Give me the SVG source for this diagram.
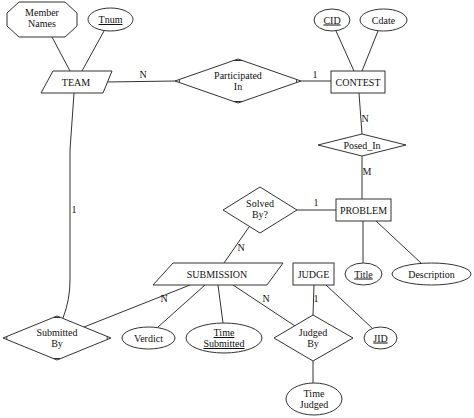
<svg xmlns="http://www.w3.org/2000/svg" width="474" height="418" viewBox="0 0 474 418">
<style>
.s{fill:#fff;stroke:#333;stroke-width:1}
.m{fill:none;stroke:#333;stroke-width:1}
.e{fill:none;stroke:#333;stroke-width:1}
text{font-family:"Liberation Serif","Times New Roman",serif;font-size:10px;fill:#111;text-anchor:middle}
.u{text-decoration:underline}
</style>
<rect width="474" height="418" fill="#fff"/>
<g id="connectors">
<line class="e" x1="52" y1="37" x2="70" y2="71"/>
<line class="e" x1="104" y1="31" x2="82" y2="71"/>
<line class="e" x1="106" y1="82" x2="176" y2="81"/>
<text x="143" y="78">N</text>
<path class="e" d="M74,93 L70,150 L70,280 Q70,300 63,318"/>
<text x="74" y="213">1</text>
<line class="e" x1="301" y1="81" x2="331" y2="81"/>
<text x="315" y="78">1</text>
<line class="e" x1="336" y1="31" x2="354" y2="71"/>
<line class="e" x1="378" y1="31" x2="362" y2="71"/>
<line class="e" x1="359" y1="93" x2="362" y2="134"/>
<text x="365" y="122">N</text>
<line class="e" x1="362" y1="156" x2="362" y2="199"/>
<text x="367" y="175">M</text>
<line class="e" x1="297" y1="210" x2="336" y2="210"/>
<text x="316" y="206">1</text>
<line class="e" x1="249" y1="227" x2="224" y2="263"/>
<text x="241" y="251">N</text>
<line class="e" x1="363" y1="221" x2="363" y2="263"/>
<line class="e" x1="376" y1="221" x2="421" y2="263"/>
<line class="e" x1="190" y1="285" x2="84" y2="327"/>
<text x="164" y="302">N</text>
<line class="e" x1="205" y1="285" x2="158" y2="327"/>
<line class="e" x1="218" y1="285" x2="223" y2="323"/>
<line class="e" x1="233" y1="285" x2="295" y2="326"/>
<text x="266" y="302">N</text>
<line class="e" x1="314" y1="285" x2="313" y2="315"/>
<text x="316" y="302">1</text>
<line class="e" x1="326" y1="285" x2="372" y2="328"/>
<line class="e" x1="313" y1="361" x2="313" y2="383"/>
</g>
<g id="member-names">
<polygon class="s" points="19,2 65,2 77,13 77,26 65,37 19,37 7,26 7,13"/>
<text x="42" y="16">Member</text>
<text x="42" y="27">Names</text>
</g>
<g id="tnum">
<ellipse class="s" cx="110.5" cy="19.5" rx="22.5" ry="11.5"/>
<text class="u" x="110.5" y="23">Tnum</text>
</g>
<g id="team">
<polygon class="s" points="53,71 112,71 103,93 41,93"/>
<text x="76" y="85.5">TEAM</text>
</g>
<g id="participated-in">
<polygon class="s" points="175,81 238,59 301,81 238,103"/>
<path class="m" d="M179.4,79.5 V82.5 M233.6,60.5 H242.4 M296.6,79.5 V82.5 M233.6,101.5 H242.4"/>
<text x="238" y="79">Participated</text>
<text x="238" y="90">In</text>
</g>
<g id="contest">
<rect class="s" x="331" y="71" width="54" height="22"/>
<text x="358" y="85.5">CONTEST</text>
</g>
<g id="cid">
<ellipse class="s" cx="332" cy="20" rx="18" ry="11"/>
<text class="u" x="332" y="23.5">CID</text>
</g>
<g id="cdate">
<ellipse class="s" cx="383.5" cy="20" rx="23.5" ry="11"/>
<text x="383.5" y="23.5">Cdate</text>
</g>
<g id="posed-in">
<polygon class="s" points="318,145 362,134 406,145 362,156"/>
<text x="362" y="148.5">Posed_In</text>
</g>
<g id="problem">
<rect class="s" x="336" y="199" width="55" height="22"/>
<text x="363.5" y="213.5">PROBLEM</text>
</g>
<g id="solved-by">
<polygon class="s" points="223,210 260,187 297,210 260,233"/>
<text x="260" y="207">Solved</text>
<text x="260" y="218">By?</text>
</g>
<g id="submission">
<polygon class="s" points="173,263 283,263 267,285 153,285"/>
<text x="217" y="277.5">SUBMISSION</text>
</g>
<g id="judge">
<rect class="s" x="293" y="263" width="41" height="22"/>
<text x="313.5" y="277.5">JUDGE</text>
</g>
<g id="title">
<ellipse class="s" cx="363.5" cy="274" rx="18.5" ry="11"/>
<text class="u" x="363.5" y="277.5">Title</text>
</g>
<g id="description">
<ellipse class="s" cx="431.5" cy="274" rx="39.5" ry="11"/>
<text x="431.5" y="277.5">Description</text>
</g>
<g id="submitted-by">
<polygon class="s" points="3,338 57,316 111,338 57,360"/>
<path class="m" d="M6.8,336.5 V339.5 M53.2,317.5 H60.8 M107.2,336.5 V339.5 M53.2,358.5 H60.8"/>
<text x="57" y="336">Submitted</text>
<text x="57" y="347">By</text>
</g>
<g id="verdict">
<ellipse class="s" cx="148.5" cy="338" rx="26.5" ry="11"/>
<text x="148.5" y="341.5">Verdict</text>
</g>
<g id="time-submitted">
<ellipse class="s" cx="224" cy="338" rx="38" ry="15"/>
<text class="u" x="224" y="336">Time</text>
<text class="u" x="224" y="347">Submitted</text>
</g>
<g id="judged-by">
<polygon class="s" points="274,338 313,315 353,338 313,361"/>
<text x="313" y="336">Judged</text>
<text x="313" y="347">By</text>
</g>
<g id="jid">
<ellipse class="s" cx="380.5" cy="338" rx="16.5" ry="11"/>
<text class="u" x="380.5" y="341.5">JID</text>
</g>
<g id="time-judged">
<ellipse class="s" cx="314" cy="399" rx="28" ry="16"/>
<text x="314" y="397">Time</text>
<text x="314" y="408">Judged</text>
</g>
</svg>
